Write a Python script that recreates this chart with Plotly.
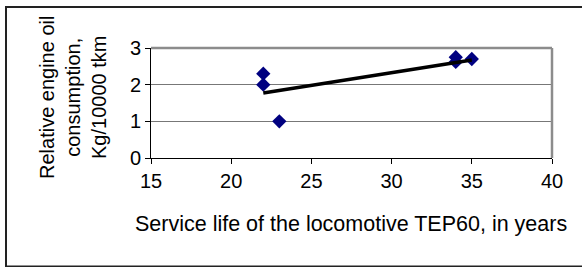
import plotly.graph_objects as go

# Data
service_years = [22, 22, 23, 34, 34, 35]
oil_consumption = [2.3, 2.0, 1.0, 2.75, 2.62, 2.7]
trend_x = [22, 35]
trend_y = [1.77, 2.67]
x_ticks = [15, 20, 25, 30, 35, 40]
y_ticks = [0, 1, 2, 3]

W, H = 582, 267
L, R, T, B = 151, 30, 48, 109
PW, PH = W - L - R, H - T - B

def px(x):
    return (x - L) / PW

def py(y):
    return (H - B - y) / PH

FONT = "Liberation Sans, Arial, sans-serif"

fig = go.Figure()
fig.add_trace(go.Scatter(
    x=service_years, y=oil_consumption, mode="markers",
    marker=dict(symbol="diamond", size=11, color="#000080",
                line=dict(width=0)),
    showlegend=False, cliponaxis=False,
))
fig.add_trace(go.Scatter(
    x=trend_x, y=trend_y, mode="lines",
    line=dict(color="black", width=3.5),
    showlegend=False,
))

fig.update_layout(
    width=W, height=H,
    margin=dict(l=L, r=R, t=T, b=B, pad=0),
    paper_bgcolor="white", plot_bgcolor="white",
    font=dict(family=FONT, size=20, color="black"),
    xaxis=dict(range=[15, 40], tickvals=x_ticks, ticks="outside", ticklen=5,
               tickcolor="black", showline=True, linecolor="black", linewidth=1,
               showgrid=False, zeroline=False, fixedrange=True,
               tickfont=dict(family=FONT, size=20, color="black")),
    yaxis=dict(range=[0, 3], tickvals=y_ticks, ticks="outside", ticklen=5,
               tickcolor="black", showline=True, linecolor="black", linewidth=1,
               showgrid=True, gridcolor="#777777", gridwidth=1,
               zeroline=False, fixedrange=True,
               tickfont=dict(family=FONT, size=20, color="black")),
)

shapes = [
    # plot-area top and right border (gray)
    dict(type="line", xref="paper", yref="paper", x0=0, x1=1, y0=1, y1=1,
         line=dict(color="#8c8c8c", width=2.5), layer="above"),
    dict(type="line", xref="paper", yref="paper", x0=1, x1=1, y0=0, y1=1,
         line=dict(color="#8c8c8c", width=2.5), layer="above"),
    # outer chart border (right edge falls outside the picture)
    dict(type="rect", xref="paper", yref="paper",
         x0=px(6), x1=px(600), y0=py(266.5), y1=py(7),
         line=dict(color="#222222", width=2), fillcolor="rgba(0,0,0,0)",
         layer="above"),
]
fig.update_layout(shapes=shapes)

fig.add_annotation(
    text="Relative engine oil<br>consumption,<br>Kg/10000 tkm",
    xref="paper", yref="paper", x=px(73), y=py(98),
    xanchor="center", yanchor="middle", textangle=-90, showarrow=False,
    font=dict(family=FONT, size=20, color="black"), align="center",
)
fig.add_annotation(
    text="Service life of the locomotive TEP60, in years",
    xref="paper", yref="paper", x=px(351), y=py(224),
    xanchor="center", yanchor="middle", showarrow=False,
    font=dict(family=FONT, size=21.5, color="black"),
)

fig.write_html("out.html", config={"displayModeBar": False},
               post_script="document.body.style.margin='0';document.body.style.overflow='hidden';")
